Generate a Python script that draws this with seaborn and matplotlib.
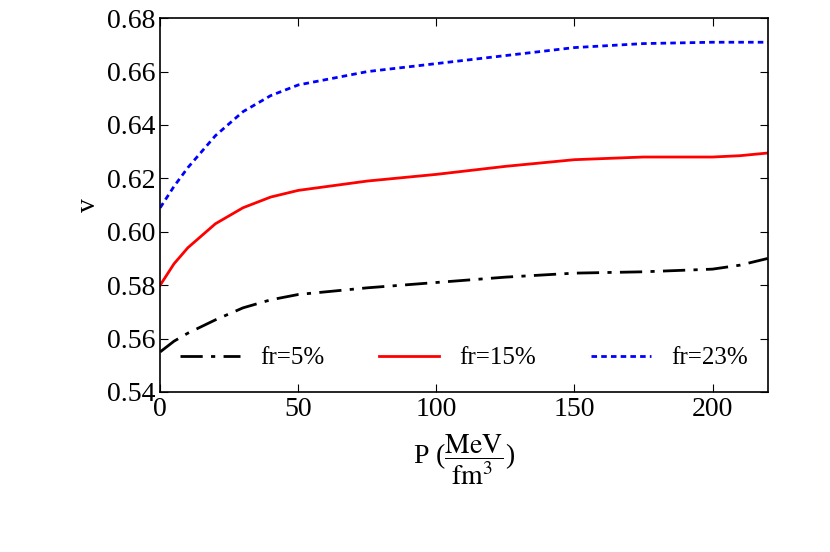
import matplotlib
matplotlib.use("Agg")
import matplotlib.pyplot as plt
import seaborn as sns
import pandas as pd

pressure = [0, 5, 10, 20, 30, 40, 50, 75, 100, 125, 150, 175, 200, 210, 220]
v_fr5 = [0.555, 0.559, 0.562, 0.567, 0.5715, 0.5745, 0.5765, 0.579, 0.581, 0.583, 0.5845, 0.585, 0.586, 0.5875, 0.590]
v_fr15 = [0.580, 0.588, 0.594, 0.603, 0.609, 0.613, 0.6155, 0.619, 0.6215, 0.6245, 0.627, 0.628, 0.628, 0.6285, 0.6295]
v_fr23 = [0.609, 0.617, 0.624, 0.636, 0.645, 0.651, 0.655, 0.660, 0.663, 0.666, 0.669, 0.6705, 0.671, 0.671, 0.671]
labels = ["fr=5%", "fr=15%", "fr=23%"]

plt.rcParams["font.family"] = "Liberation Serif"
plt.rcParams["mathtext.fontset"] = "stix"
fig = plt.figure(figsize=(8.3, 5.52), dpi=100)
ax = fig.add_axes([0.193, 0.290, 0.732, 0.677])

styles = [dict(color="black", linestyle=(0, (8, 3, 1.5, 3)), linewidth=2),
          dict(color="red", linestyle="-", linewidth=2),
          dict(color="blue", linestyle=(0, (2, 1.5)), linewidth=2)]
for vals, lab, st in zip([v_fr5, v_fr15, v_fr23], labels, styles):
    df = pd.DataFrame({"P": pressure, "v": vals})
    sns.lineplot(data=df, x="P", y="v", ax=ax, label=lab, **st)

ax.set_xlim(0, 220)
ax.set_ylim(0.54, 0.68)
ax.set_xticks([0, 50, 100, 150, 200])
ax.set_yticks([0.54 + 0.02 * i for i in range(8)])
ax.set_yticklabels([f"{0.54 + 0.02 * i:.2f}" for i in range(8)])
ax.tick_params(direction="in", labelsize=20, top=True, right=True, length=6)
ax.set_xlabel(r"P ($\dfrac{\mathrm{MeV}}{\mathrm{fm}^3}$)", fontsize=20, labelpad=8)
ax.set_ylabel("v", fontsize=20)
for s in ax.spines.values():
    s.set_linewidth(1.2)
ax.legend(loc="lower center", ncol=3, frameon=False, fontsize=18,
          handlelength=2.4, columnspacing=2.2, bbox_to_anchor=(0.5, 0.0))
fig.savefig("out.png", dpi=100)
